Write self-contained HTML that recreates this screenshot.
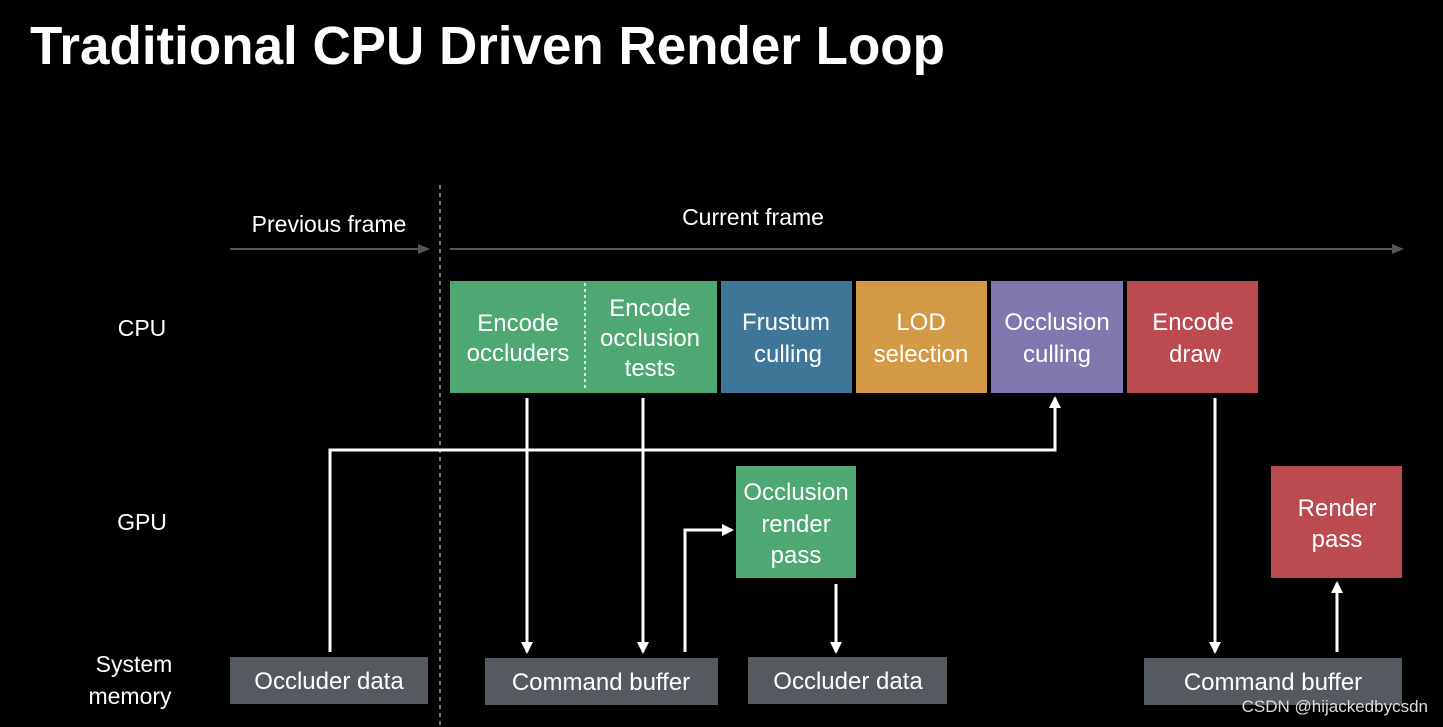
<!DOCTYPE html>
<html><head><style>body{margin:0;background:#000;}svg{display:block}</style></head><body>
<svg width="1443" height="727" viewBox="0 0 1443 727" xmlns="http://www.w3.org/2000/svg" font-family="Liberation Sans, sans-serif">
<defs>
<marker id="a" markerWidth="12" markerHeight="12" refX="10" refY="6" orient="auto" markerUnits="userSpaceOnUse"><path d="M0,0 L12,6 L0,12 z" fill="#fff"/></marker>
<marker id="g" markerWidth="12" markerHeight="10" refX="10" refY="5" orient="auto" markerUnits="userSpaceOnUse"><path d="M0,0 L12,5 L0,10 z" fill="#555"/></marker>
</defs>
<rect width="1443" height="727" fill="#000"/>
<text x="30" y="64" font-size="54" font-weight="bold" fill="#fff" textLength="915" lengthAdjust="spacingAndGlyphs">Traditional CPU Driven Render Loop</text>
<line x1="440" y1="185" x2="440" y2="727" stroke="#999" stroke-width="1.5" stroke-dasharray="4,4"/>
<text x="329" y="232" font-size="23" fill="#fff" text-anchor="middle">Previous frame</text>
<text x="753" y="225" font-size="23" fill="#fff" text-anchor="middle">Current frame</text>
<line x1="230" y1="249" x2="428" y2="249" stroke="#555" stroke-width="2" marker-end="url(#g)"/>
<line x1="450" y1="249" x2="1402" y2="249" stroke="#555" stroke-width="2" marker-end="url(#g)"/>
<g font-size="23" fill="#fff" text-anchor="middle">
<text x="142" y="336">CPU</text>
<text x="142" y="530">GPU</text>
<text x="134" y="672">System</text>
<text x="130" y="704">memory</text>
</g>
<rect x="450" y="281" width="267" height="112" fill="#4fa874"/>
<line x1="585" y1="283" x2="585" y2="391" stroke="#fff" stroke-width="1.5" stroke-dasharray="3,3"/>
<rect x="721" y="281" width="131" height="112" fill="#3f7597"/>
<rect x="856" y="281" width="131" height="112" fill="#d39a45"/>
<rect x="991" y="281" width="132" height="112" fill="#7f77ad"/>
<rect x="1127" y="281" width="131" height="112" fill="#bb4a51"/>
<rect x="736" y="466" width="120" height="112" fill="#4fa874"/>
<rect x="1271" y="466" width="131" height="112" fill="#bb4a51"/>
<g fill="#545a60">
<rect x="230" y="657" width="198" height="47"/>
<rect x="485" y="658" width="233" height="47"/>
<rect x="748" y="657" width="199" height="47"/>
<rect x="1144" y="658" width="258" height="47"/>
</g>
<g font-size="24" fill="#fff" text-anchor="middle">
<text x="518" y="331">Encode</text><text x="518" y="361">occluders</text>
<text x="650" y="316">Encode</text><text x="650" y="346">occlusion</text><text x="650" y="376">tests</text>
<text x="786" y="330">Frustum</text><text x="788" y="362">culling</text>
<text x="921" y="330">LOD</text><text x="921" y="362">selection</text>
<text x="1057" y="330">Occlusion</text><text x="1057" y="362">culling</text>
<text x="1193" y="330">Encode</text><text x="1195" y="362">draw</text>
<text x="796" y="500">Occlusion</text><text x="796" y="532">render</text><text x="796" y="563">pass</text>
<text x="1337" y="516">Render</text><text x="1337" y="547">pass</text>
<text x="329" y="689">Occluder data</text>
<text x="601" y="690">Command buffer</text>
<text x="848" y="689">Occluder data</text>
<text x="1273" y="690">Command buffer</text>
</g>
<g stroke="#fff" stroke-width="3" fill="none">
<line x1="527" y1="398" x2="527" y2="652" marker-end="url(#a)"/>
<line x1="643" y1="398" x2="643" y2="652" marker-end="url(#a)"/>
<polyline points="685,652 685,530 732,530" marker-end="url(#a)"/>
<line x1="836" y1="584" x2="836" y2="652" marker-end="url(#a)"/>
<line x1="1215" y1="398" x2="1215" y2="652" marker-end="url(#a)"/>
<line x1="1337" y1="652" x2="1337" y2="583" marker-end="url(#a)"/>
<polyline points="330,652 330,450 1055,450 1055,398" marker-end="url(#a)"/>
</g>
<text x="1428" y="712" font-size="17" fill="#ddd" text-anchor="end">CSDN @hijackedbycsdn</text>
</svg>
</body></html>
